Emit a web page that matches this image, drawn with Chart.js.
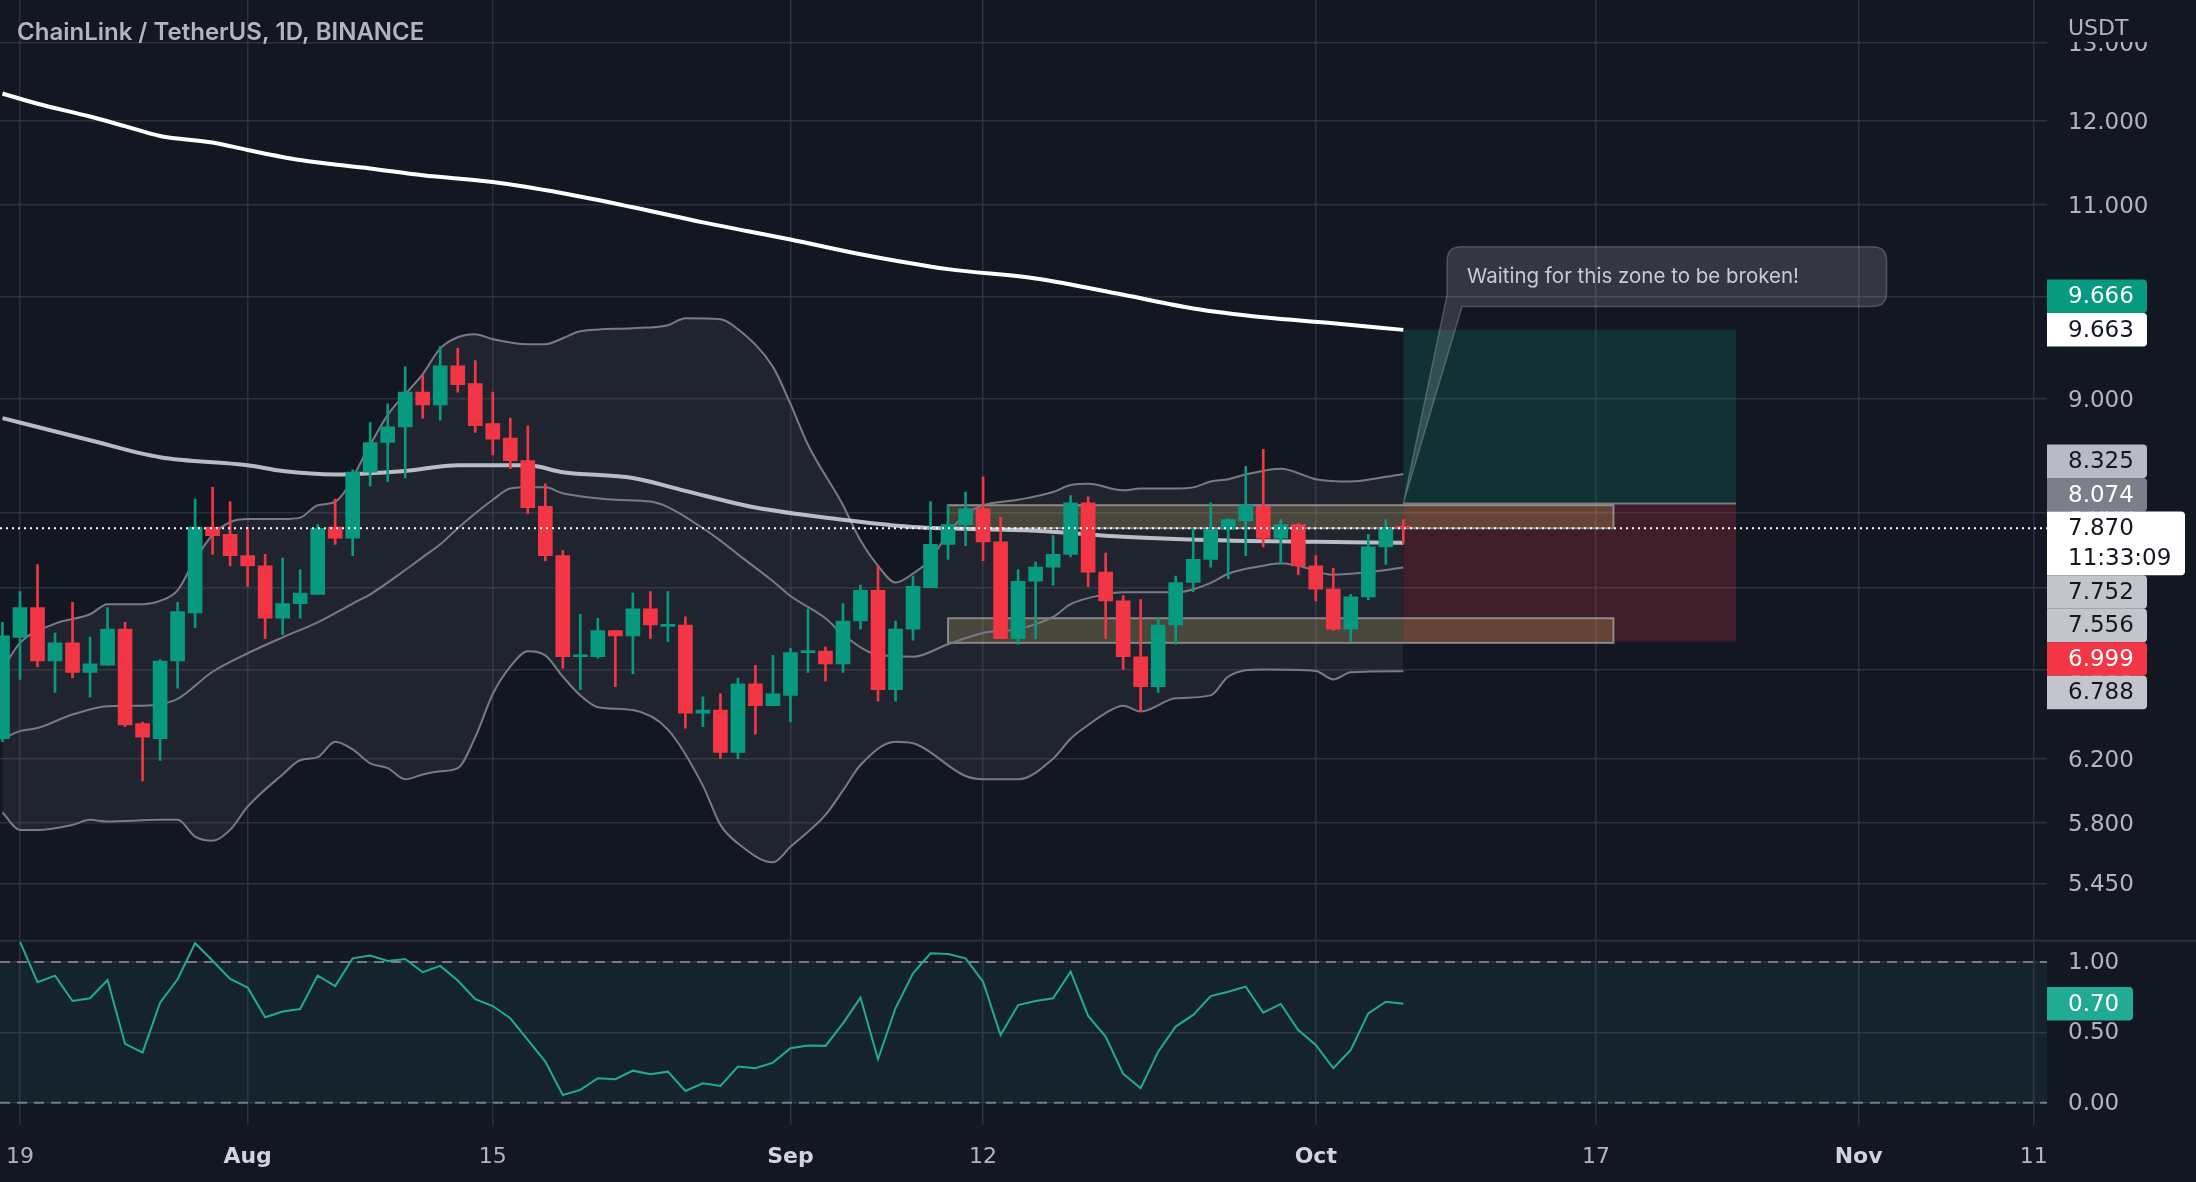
<!DOCTYPE html>
<html lang="en">
<head>
    <meta charset="UTF-8">
    <title>ChainLink / TetherUS, 1D, BINANCE</title>
    <script src="https://cdn.jsdelivr.net/npm/chart.js"></script>
    <style>
        html, body { margin: 0; padding: 0; background: #131722; }
        canvas { display: block; }
    </style>
</head>
<body>
    <canvas id="chart" width="2196" height="1182" style="width:2196px;height:1182px"></canvas>

    <script>
    // daily candles, day 0 = 19 Jul 2022, first candle is 18 Jul (day -1)
    const firstDay = -1;
    const opens  = [6.33, 7.03, 7.25, 6.86, 6.99, 6.78, 6.83, 7.09, 6.43, 6.33, 6.86, 7.21, 7.88, 7.82, 7.65, 7.57, 7.17,
                    7.28, 7.35, 7.88, 7.79, 8.34, 8.60, 8.74, 9.06, 8.94, 9.31, 9.14, 8.77, 8.64, 8.44, 8.05, 7.65,
                    6.89, 6.89, 7.08, 7.04, 7.24, 7.11, 7.12, 6.50, 6.52, 6.24, 6.70, 6.55, 6.62, 6.92, 6.93, 6.84,
                    7.15, 7.38, 6.66, 7.09, 7.40, 7.74, 7.90, 8.03, 7.76, 7.02, 7.45, 7.56, 7.66, 8.08, 7.52, 7.30,
                    6.89, 6.68, 7.12, 7.44, 7.62, 7.86, 7.93, 8.05, 7.79, 7.90, 7.57, 7.39, 7.09, 7.33, 7.72, 7.88];
    const highs  = [7.14, 7.37, 7.58, 7.06, 7.29, 7.03, 7.25, 7.14, 6.44, 6.87, 7.29, 8.11, 8.21, 8.09, 7.88, 7.66, 7.63,
                    7.54, 7.90, 8.11, 8.36, 8.78, 8.95, 9.30, 9.22, 9.50, 9.48, 9.36, 9.06, 8.82, 8.75, 8.24, 7.69,
                    7.20, 7.17, 7.08, 7.36, 7.37, 7.37, 7.18, 6.61, 6.63, 6.74, 6.83, 6.90, 6.95, 7.24, 6.96, 7.28,
                    7.42, 7.57, 7.15, 7.49, 8.09, 8.06, 8.17, 8.30, 7.96, 7.54, 7.60, 7.81, 8.14, 8.13, 7.67, 7.34,
                    7.31, 7.17, 7.49, 7.87, 8.08, 7.95, 8.39, 8.54, 7.94, 7.91, 7.65, 7.55, 7.35, 7.82, 7.94, 7.94];
    const lows   = [6.31, 6.73, 6.82, 6.64, 6.74, 6.61, 6.83, 6.41, 6.06, 6.19, 6.67, 7.10, 7.66, 7.57, 7.41, 7.02, 7.05,
                    7.17, 7.35, 7.74, 7.65, 8.22, 8.26, 8.29, 8.82, 8.80, 9.06, 8.69, 8.49, 8.37, 7.99, 7.61, 6.81,
                    6.66, 6.88, 6.68, 6.77, 7.02, 7.00, 6.40, 6.41, 6.20, 6.20, 6.36, 6.55, 6.44, 6.78, 6.72, 6.78,
                    7.09, 6.58, 6.58, 7.01, 7.40, 7.62, 7.73, 7.61, 7.02, 6.98, 7.02, 7.42, 7.64, 7.41, 7.02, 6.80,
                    6.51, 6.64, 6.98, 7.37, 7.56, 7.47, 7.65, 7.72, 7.58, 7.50, 7.30, 7.08, 7.00, 7.31, 7.58, 7.75];
    const closes = [7.04, 7.25, 6.86, 6.99, 6.78, 6.84, 7.09, 6.42, 6.34, 6.86, 7.22, 7.88, 7.81, 7.65, 7.57, 7.17, 7.28,
                    7.36, 7.87, 7.79, 8.34, 8.60, 8.74, 9.06, 8.94, 9.31, 9.13, 8.75, 8.63, 8.44, 8.04, 7.65, 6.89,
                    6.90, 7.08, 7.04, 7.24, 7.12, 7.12, 6.50, 6.52, 6.24, 6.70, 6.55, 6.63, 6.92, 6.93, 6.84, 7.15,
                    7.38, 6.66, 7.09, 7.41, 7.74, 7.90, 8.03, 7.76, 7.02, 7.45, 7.56, 7.66, 8.08, 7.52, 7.30, 6.89,
                    6.68, 7.12, 7.44, 7.62, 7.86, 7.94, 8.06, 7.79, 7.90, 7.57, 7.39, 7.09, 7.33, 7.72, 7.87, 7.87];

    // [day, value]
    const maSlow = [[-1, 12.34], [1, 12.21], [4, 12.05], [6, 11.93], [8, 11.81], [11, 11.73], [13, 11.64], [16, 11.52],
                    [20, 11.42], [23, 11.34], [27, 11.26], [31, 11.13], [35, 10.97], [39, 10.80], [44, 10.61], [48, 10.45],
                    [53, 10.29], [58, 10.19], [63, 10.02], [67, 9.88], [71, 9.79], [75, 9.73], [79, 9.663]];
    const maFast = [[-1, 8.82], [4, 8.62], [8, 8.47], [13, 8.40], [15, 8.35], [18, 8.32], [22, 8.35], [25, 8.40],
                    [27, 8.40], [29, 8.40], [31, 8.34], [35, 8.29], [38, 8.18], [42, 8.04], [47, 7.94], [51, 7.88],
                    [58, 7.85], [63, 7.80], [69, 7.77], [74, 7.76], [79, 7.752]];
    const bbUpper = [[-1, 6.80], [0, 6.99], [2, 7.13], [4, 7.20], [5, 7.275], [7, 7.275], [8, 7.30], [9, 7.38], [10, 7.62],
                     [11, 7.815], [12, 7.92], [13, 7.945], [15, 7.945], [16, 7.957], [17, 8.06], [18, 8.09], [20, 8.58],
                     [21, 8.85], [23, 9.23], [24, 9.48], [25, 9.59], [26, 9.62], [27, 9.57], [29, 9.52], [30, 9.52],
                     [31, 9.58], [32, 9.65], [35, 9.68], [37, 9.71], [38, 9.78], [40, 9.77], [41, 9.67], [43, 9.30],
                     [44, 8.95], [45, 8.58], [47, 8.06], [48, 7.77], [49, 7.57], [50, 7.44], [51, 7.51], [52, 7.62],
                     [53, 7.83], [54, 7.98], [55, 8.06], [57, 8.105], [59, 8.17], [60, 8.23], [61, 8.24], [63, 8.185],
                     [64, 8.20], [66, 8.20], [67, 8.21], [68, 8.26], [69, 8.28], [70, 8.32], [72, 8.37], [74, 8.28],
                     [76, 8.26], [78, 8.30], [79, 8.325]];
    const bbBasis = [[-1, 6.33], [0, 6.38], [1, 6.40], [3, 6.49], [5, 6.546], [7, 6.55], [8, 6.56], [9, 6.596], [11, 6.784],
                     [13, 6.915], [15, 7.03], [17, 7.14], [19, 7.28], [20, 7.35], [22, 7.537], [23, 7.638], [24, 7.74],
                     [25, 7.87], [27, 8.105], [28, 8.20], [29, 8.21], [30, 8.21], [31, 8.16], [32, 8.135], [34, 8.105],
                     [36, 8.09], [37, 8.044], [39, 7.87], [40, 7.77], [41, 7.66], [43, 7.45], [44, 7.337], [46, 7.17],
                     [47, 7.05], [49, 6.904], [51, 6.89], [53, 6.98], [55, 7.062], [57, 7.09], [59, 7.18], [60, 7.275],
                     [62, 7.35], [63, 7.365], [66, 7.365], [68, 7.437], [69, 7.508], [71, 7.57], [72, 7.59], [73, 7.57],
                     [75, 7.50], [77, 7.52], [79, 7.556]];
    const bbLower = [[-1, 5.865], [0, 5.76], [1, 5.76], [3, 5.79], [4, 5.82], [5, 5.81], [8, 5.82], [9, 5.82], [10, 5.72],
                     [11, 5.695], [12, 5.76], [13, 5.90], [15, 6.10], [16, 6.19], [17, 6.21], [18, 6.31], [19, 6.26],
                     [20, 6.17], [21, 6.14], [22, 6.07], [23, 6.10], [24, 6.12], [25, 6.14], [26, 6.34], [27, 6.63],
                     [28, 6.82], [29, 6.93], [30, 6.90], [31, 6.75], [32, 6.62], [33, 6.54], [35, 6.52], [37, 6.39],
                     [39, 6.03], [40, 5.79], [41, 5.68], [43, 5.57], [44, 5.66], [46, 5.85], [47, 6.00], [48, 6.16],
                     [50, 6.31], [51, 6.30], [54, 6.09], [55, 6.07], [57, 6.07], [59, 6.20], [60, 6.33], [61, 6.42],
                     [62, 6.50], [63, 6.55], [64, 6.51], [66, 6.60], [68, 6.62], [69, 6.75], [71, 6.80], [74, 6.79],
                     [75, 6.73], [76, 6.78], [79, 6.788]];

    // Bollinger %B, one value per day from day 0
    const pctB = [1.144, 0.856, 0.903, 0.723, 0.742, 0.872, 0.418, 0.356, 0.711, 0.877, 1.133, 1.009, 0.879, 0.818,
                  0.607, 0.648, 0.666, 0.903, 0.829, 1.026, 1.045, 1.007, 1.021, 0.927, 0.972, 0.868, 0.735, 0.687,
                  0.600, 0.446, 0.292, 0.055, 0.091, 0.174, 0.167, 0.228, 0.202, 0.221, 0.084, 0.138, 0.119, 0.257,
                  0.245, 0.285, 0.387, 0.406, 0.404, 0.564, 0.747, 0.309, 0.671, 0.919, 1.061, 1.057, 1.026, 0.860,
                  0.481, 0.694, 0.723, 0.742, 0.931, 0.617, 0.470, 0.205, 0.103, 0.363, 0.541, 0.624, 0.758, 0.789,
                  0.825, 0.640, 0.702, 0.517, 0.411, 0.245, 0.375, 0.635, 0.718, 0.703];

    const tickDays   = [0, 13, 27, 44, 55, 74, 90, 105, 115];
    const tickLabels = ['19', 'Aug', '15', 'Sep', '12', 'Oct', '17', 'Nov', '11'];
    const monthLabels = ['Aug', 'Sep', 'Oct', 'Nov'];
    const priceTicks = [5.45, 5.8, 6.2, 6.8, 7.4, 8, 9, 10, 11, 12, 13];
    const pctTicks   = [0, 0.5, 1];

    // drawings
    const zoneDays  = [53, 91];
    const upperZone = [7.87, 8.06];
    const lowerZone = [6.99, 7.17];
    const posDays   = [79, 98];
    const targetPrice = 9.666, entryPrice = 8.074, stopPrice = 6.999;
    const lastPrice = 7.870, countdown = '11:33:09';
    const noteBox  = [81.5, 106.6, 10.53, 9.90];   // day from, day to, price top, price bottom
    const noteText = 'Waiting for this zone to be broken!';

    const BG = '#131722', UP = '#089981', DOWN = '#f23645';
    const GRID = 'rgba(54, 58, 69, 0.75)';
    const FONT = 'Inter';
    const AXIS_FONT = 'DejaVu Sans';

    const candleColors = closes.map((c, i) => c >= opens[i] ? UP : DOWN);
    const pts = arr => arr.map(([d, v]) => ({x: d, y: v}));
    const last = arr => arr[arr.length - 1][1];

    function lineSet(data, color, width, order, extra) {
        return Object.assign({
            type: 'line', data: pts(data), borderColor: color, borderWidth: width,
            pointRadius: 0, cubicInterpolationMode: 'monotone', fill: false, order: order, yAxisID: 'y'
        }, extra || {});
    }

    function roundRight(ctx, x, y, w, h, r) {
        ctx.beginPath();
        ctx.moveTo(x, y);
        ctx.lineTo(x + w - r, y);
        ctx.quadraticCurveTo(x + w, y, x + w, y + r);
        ctx.lineTo(x + w, y + h - r);
        ctx.quadraticCurveTo(x + w, y + h, x + w - r, y + h);
        ctx.lineTo(x, y + h);
        ctx.closePath();
    }

    const tvPlugin = {
        id: 'tv',
        beforeDraw(chart) {
            const ctx = chart.ctx;
            ctx.save();
            ctx.fillStyle = BG;
            ctx.fillRect(0, 0, chart.width, chart.height);
            ctx.restore();
        },
        beforeDatasetsDraw(chart) {
            const {ctx, chartArea: a, scales: {x, y, y2}} = chart;
            ctx.save();
            // %B band
            const t1 = y2.getPixelForValue(1), t0 = y2.getPixelForValue(0);
            ctx.fillStyle = 'rgba(38, 166, 154, 0.09)';
            ctx.fillRect(a.left, t1, a.right - a.left, t0 - t1);
            ctx.strokeStyle = '#787b86';
            ctx.lineWidth = 2;
            ctx.setLineDash([10, 7]);
            [t1, t0].forEach(py => {
                ctx.beginPath(); ctx.moveTo(a.left, py); ctx.lineTo(a.right, py); ctx.stroke();
            });
            ctx.setLineDash([]);

            // long position
            const p0 = x.getPixelForValue(posDays[0]), p1 = x.getPixelForValue(posDays[1]);
            const yT = y.getPixelForValue(targetPrice), yE = y.getPixelForValue(entryPrice), yS = y.getPixelForValue(stopPrice);
            ctx.fillStyle = 'rgba(8, 153, 129, 0.2)';
            ctx.fillRect(p0, yT, p1 - p0, yE - yT);
            ctx.fillStyle = 'rgba(242, 54, 69, 0.2)';
            ctx.fillRect(p0, yE, p1 - p0, yS - yE);
            ctx.strokeStyle = 'rgba(150, 153, 162, 0.75)';
            ctx.lineWidth = 2;
            ctx.beginPath(); ctx.moveTo(p0, yE); ctx.lineTo(p1, yE); ctx.stroke();

            // zones
            const z0 = x.getPixelForValue(zoneDays[0]), z1 = x.getPixelForValue(zoneDays[1]);
            [upperZone, lowerZone].forEach(z => {
                const top = y.getPixelForValue(z[1]), bot = y.getPixelForValue(z[0]);
                ctx.fillStyle = 'rgba(255, 222, 110, 0.2)';
                ctx.fillRect(z0, top, z1 - z0, bot - top);
                ctx.strokeStyle = 'rgba(150, 150, 150, 0.9)';
                ctx.lineWidth = 2;
                ctx.strokeRect(z0, top, z1 - z0, bot - top);
            });
            ctx.restore();
        },
        afterDatasetsDraw(chart) {
            const {ctx, chartArea: a, scales: {x, y}} = chart;
            ctx.save();
            // last price dotted line
            const yl = y.getPixelForValue(lastPrice);
            ctx.strokeStyle = '#ffffff';
            ctx.lineWidth = 2;
            ctx.setLineDash([2, 4]);
            ctx.beginPath(); ctx.moveTo(a.left, yl); ctx.lineTo(a.right, yl); ctx.stroke();
            ctx.setLineDash([]);

            // callout
            const bx0 = x.getPixelForValue(noteBox[0]), bx1 = x.getPixelForValue(noteBox[1]);
            const by0 = y.getPixelForValue(noteBox[2]), by1 = y.getPixelForValue(noteBox[3]);
            const tx = x.getPixelForValue(posDays[0]), ty = y.getPixelForValue(entryPrice);
            const r = 14;
            ctx.beginPath();
            ctx.moveTo(bx0 + r, by0);
            ctx.lineTo(bx1 - r, by0);
            ctx.quadraticCurveTo(bx1, by0, bx1, by0 + r);
            ctx.lineTo(bx1, by1 - r);
            ctx.quadraticCurveTo(bx1, by1, bx1 - r, by1);
            ctx.lineTo(bx0 + 15, by1);
            ctx.lineTo(tx, ty);
            ctx.lineTo(bx0, by1 - 12);
            ctx.lineTo(bx0, by0 + r);
            ctx.quadraticCurveTo(bx0, by0, bx0 + r, by0);
            ctx.closePath();
            ctx.fillStyle = 'rgba(255, 255, 255, 0.14)';
            ctx.fill();
            ctx.strokeStyle = 'rgba(255, 255, 255, 0.2)';
            ctx.lineWidth = 1.5;
            ctx.stroke();
            ctx.fillStyle = '#c8cbd3';
            ctx.font = '400 20.5px ' + FONT;
            ctx.textBaseline = 'middle';
            ctx.textAlign = 'left';
            ctx.fillText(noteText, bx0 + 20, (by0 + by1) / 2);
            ctx.restore();
        },
        afterDraw(chart) {
            const {ctx, chartArea: a, scales: {y, y2}} = chart;
            ctx.save();
            // pane separator
            ctx.strokeStyle = '#2a2e39';
            ctx.lineWidth = 2;
            ctx.beginPath(); ctx.moveTo(0, y.bottom); ctx.lineTo(chart.width, y.bottom); ctx.stroke();

            // currency label at top of price scale
            ctx.fillStyle = BG;
            ctx.fillRect(a.right, 0, chart.width - a.right, 42);
            ctx.fillStyle = '#b2b5be';
            ctx.font = '400 22px ' + AXIS_FONT;
            ctx.textBaseline = 'alphabetic';
            ctx.fillText('USDT', a.right + 21, 35);

            // symbol header
            ctx.font = '600 24px ' + FONT;
            ctx.fillStyle = '#b2b5be';
            ctx.fillText('ChainLink / TetherUS, 1D, BINANCE', 17, 40);

            // price tags on the scale
            const H1 = 33.5;
            const tags = [
                {v: targetPrice, bg: UP, fg: '#ffffff'},
                {v: last(maSlow), bg: '#ffffff', fg: BG},
                {v: last(bbUpper), bg: '#b8bbc3', fg: BG},
                {v: entryPrice, bg: '#7c7f89', fg: '#ffffff'},
                {v: lastPrice, bg: '#ffffff', fg: BG, sub: countdown},
                {v: last(maFast), bg: '#c3c5cc', fg: BG},
                {v: last(bbBasis), bg: '#c3c5cc', fg: BG},
                {v: stopPrice, bg: DOWN, fg: '#ffffff'},
                {v: last(bbLower), bg: '#c3c5cc', fg: BG}
            ].map(t => Object.assign(t, {py: y.getPixelForValue(t.v), h: t.sub ? H1 * 1.9 : H1}));
            const k = tags.findIndex(t => t.sub);
            tags[k].top = tags[k].py - H1 / 2;
            for (let i = k - 1; i >= 0; i--) {
                const bottom = Math.min(tags[i].py + H1 / 2, tags[i + 1].top);
                tags[i].top = bottom - tags[i].h;
            }
            for (let i = k + 1; i < tags.length; i++) {
                const prev = tags[i - 1];
                tags[i].top = Math.max(tags[i].py - H1 / 2, prev.top + prev.h);
            }
            ctx.font = '400 23px ' + AXIS_FONT;
            ctx.textBaseline = 'middle';
            tags.forEach(t => {
                roundRight(ctx, a.right, t.top, t.sub ? 138 : 100, t.h, 4);
                ctx.fillStyle = t.bg;
                ctx.fill();
                ctx.fillStyle = t.fg;
                ctx.fillText(t.v.toFixed(3), a.right + 21, t.top + H1 / 2 + 1);
                if (t.sub) ctx.fillText(t.sub, a.right + 21, t.top + H1 * 1.4 + 1);
            });

            // %B tag
            const bVal = pctB[pctB.length - 1];
            const by = y2.getPixelForValue(bVal);
            roundRight(ctx, a.right, by - H1 / 2, 86, H1, 4);
            ctx.fillStyle = '#22ab94';
            ctx.fill();
            ctx.fillStyle = '#ffffff';
            ctx.fillText(bVal.toFixed(2), a.right + 21, by + 1);
            ctx.restore();
        }
    };

    const chart = new Chart(document.getElementById('chart'), {
        type: 'bar',
        data: {
            datasets: [
                {
                    type: 'bar', yAxisID: 'y', order: 0, grouped: false,
                    data: opens.map((o, i) => ({x: firstDay + i, y: [o, closes[i]]})),
                    backgroundColor: candleColors, barThickness: 14, minBarLength: 2, borderWidth: 0
                },
                {
                    type: 'bar', yAxisID: 'y', order: 1, grouped: false,
                    data: lows.map((l, i) => ({x: firstDay + i, y: [l, highs[i]]})),
                    backgroundColor: candleColors, barThickness: 2, borderWidth: 0
                },
                lineSet(maSlow, '#ffffff', 4, 2),
                lineSet(maFast, 'rgba(214, 216, 222, 0.85)', 4, 3),
                lineSet(bbUpper, '#787b86', 2, 7, {fill: '+2', backgroundColor: 'rgba(120, 123, 134, 0.13)'}),
                lineSet(bbBasis, '#787b86', 2, 5),
                lineSet(bbLower, '#787b86', 2, 6),
                {
                    type: 'line', yAxisID: 'y2', order: 4,
                    data: pctB.map((v, i) => ({x: i, y: v})),
                    borderColor: '#22ab94', borderWidth: 2, pointRadius: 0, tension: 0, fill: false
                }
            ]
        },
        options: {
            responsive: false,
            devicePixelRatio: 1,
            animation: false,
            events: [],
            layout: { padding: 0 },
            plugins: { legend: { display: false }, tooltip: { enabled: false } },
            scales: {
                x: {
                    type: 'linear', min: -1.142, max: 115.76, offset: false,
                    grid: { color: GRID, lineWidth: 1.5, drawTicks: false, offset: false },
                    border: { display: false },
                    ticks: {
                        autoSkip: false, maxRotation: 0, padding: 19,
                        callback: v => tickLabels[tickDays.indexOf(v)],
                        color: c => monthLabels.includes(tickLabels[c.index]) ? '#d1d4dc' : '#b2b5be',
                        font: c => ({family: AXIS_FONT, size: 22, weight: monthLabels.includes(tickLabels[c.index]) ? '600' : '400'})
                    },
                    afterBuildTicks: s => { s.ticks = tickDays.map(v => ({value: v})); },
                    afterFit: s => { s.height = 57; s.paddingLeft = 0; s.paddingRight = 0; }
                },
                y: {
                    type: 'logarithmic', position: 'right', stack: 'panes', stackWeight: 940.7,
                    min: 5.136, max: 13.594, beginAtZero: false, bounds: 'data', grace: 0,
                    grid: { color: GRID, lineWidth: 1.5, drawTicks: false },
                    border: { display: false },
                    ticks: {
                        autoSkip: false, padding: 21, color: '#b2b5be', labelOffset: 2,
                        font: { family: AXIS_FONT, size: 23 },
                        callback: v => Number(v).toFixed(3)
                    },
                    afterBuildTicks: s => { s.ticks = priceTicks.map(v => ({value: v})); },
                    afterFit: s => { s.width = 149; s.paddingTop = 0; s.paddingBottom = 0; }
                },
                y2: {
                    type: 'linear', position: 'right', stack: 'panes', stackWeight: 184.3,
                    min: -0.158, max: 1.151, beginAtZero: false,
                    grid: { color: GRID, lineWidth: 1.5, drawTicks: false },
                    border: { display: false },
                    ticks: {
                        autoSkip: false, padding: 21, color: '#b2b5be', labelOffset: 1,
                        font: { family: AXIS_FONT, size: 23 },
                        callback: v => Number(v).toFixed(2)
                    },
                    afterBuildTicks: s => { s.ticks = pctTicks.map(v => ({value: v})); },
                    afterFit: s => { s.width = 149; s.paddingTop = 0; s.paddingBottom = 0; }
                }
            }
        },
        plugins: [tvPlugin]
    });
    </script>
</body>
</html>
